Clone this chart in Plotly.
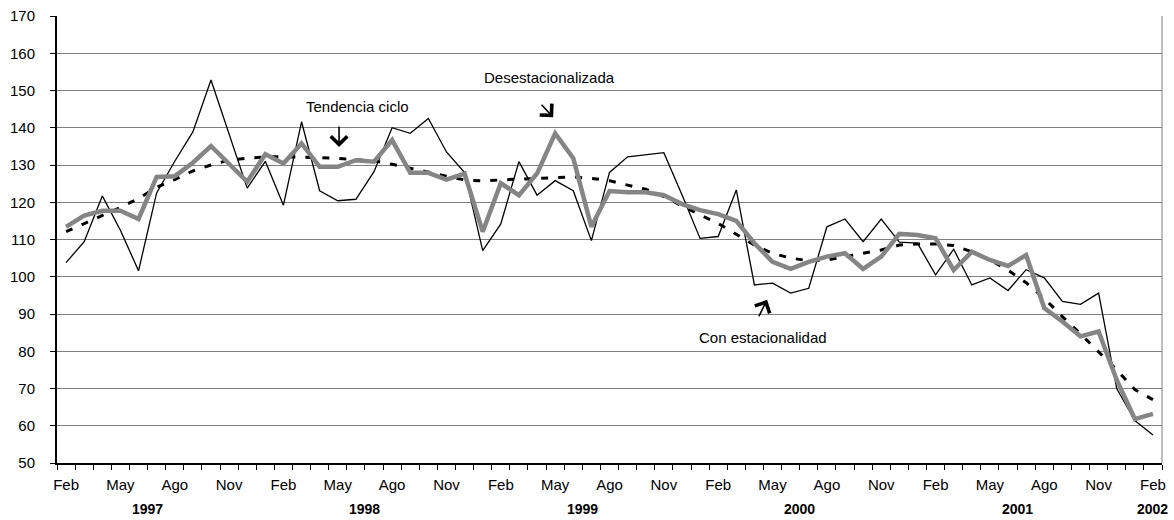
import plotly.graph_objects as go

# Monthly index, Feb 1997 - Feb 2002
month_names = ["Ene", "Feb", "Mar", "Abr", "May", "Jun",
               "Jul", "Ago", "Sep", "Oct", "Nov", "Dic"]
periods = [(1997 + (m // 12), m % 12) for m in range(1, 1 + 61)]  # (year, month0)

con_estacionalidad = [
    103.8, 109.4, 121.7, 112.5, 101.6, 122.5, 131.0, 138.9, 152.8, 138.5,
    123.8, 131.0, 119.2, 141.6, 123.1, 120.4, 120.8, 128.2, 140.0, 138.5,
    142.5, 133.5, 128.0, 107.0, 114.2, 130.9, 121.9, 125.8, 123.1, 109.7,
    128.0, 132.2, 132.7, 133.3, 122.0, 110.3, 110.8, 123.3, 97.8, 98.3,
    95.6, 96.9, 113.4, 115.5, 109.4, 115.5, 109.3, 109.0, 100.5, 107.4,
    97.8, 99.7, 96.3, 101.9, 99.7, 93.4, 92.6, 95.6, 70.0, 61.4, 57.5,
]
desestacionalizada = [
    113.4, 116.4, 117.7, 117.7, 115.5, 126.8, 127.0, 130.6, 135.1, 130.4,
    125.5, 132.9, 130.4, 135.8, 129.5, 129.5, 131.3, 130.9, 136.7, 127.9,
    127.9, 126.1, 127.7, 112.1, 125.1, 121.9, 127.7, 138.5, 131.8, 113.4,
    123.0, 122.7, 122.7, 121.9, 119.5, 117.9, 116.8, 115.0, 109.0, 104.0,
    102.1, 104.0, 105.4, 106.3, 102.1, 105.4, 111.5, 111.2, 110.3, 101.8,
    106.7, 104.5, 102.9, 105.8, 91.6, 88.0, 84.0, 85.3, 72.3, 61.8, 63.2,
]
tendencia_ciclo = [
    112.1, 114.2, 116.4, 118.6, 121.0, 124.0, 126.1, 128.4, 130.0, 131.3,
    131.8, 132.2, 132.2, 132.2, 132.0, 131.8, 131.5, 131.1, 130.2, 129.1,
    127.9, 127.0, 126.0, 125.7, 126.0, 126.2, 126.6, 126.8, 126.8, 126.4,
    125.8, 124.6, 123.5, 121.5, 119.0, 116.6, 114.3, 111.4, 108.5, 106.3,
    105.0, 104.3, 104.5, 105.4, 106.3, 107.2, 108.5, 108.8, 108.8, 108.4,
    106.7, 104.5, 101.8, 98.4, 94.2, 89.3, 84.7, 79.9, 75.0, 69.7, 67.0,
]

x = list(range(len(periods)))
FONT = "Liberation Sans, Arial, sans-serif"

# month labels every quarter (Feb, May, Ago, Nov)
label_idx = [i for i in x if i % 3 == 0]
label_text = [month_names[periods[i][1]] for i in label_idx]

# year labels under the axis: centred at Jun/Jul boundary, last one under final month
years = sorted(set(p[0] for p in periods))
year_pos = []
for yr in years:
    jul = [i for i in x if periods[i] == (yr, 6)]
    year_pos.append(jul[0] - 0.5 if jul else x[-1])

fig = go.Figure()
fig.add_trace(go.Scatter(x=x, y=con_estacionalidad, mode="lines",
                         line=dict(color="black", width=1.3),
                         name="Con estacionalidad"))
fig.add_trace(go.Scatter(x=x, y=tendencia_ciclo, mode="lines",
                         line=dict(color="black", width=3, dash="7px,10px"),
                         name="Tendencia ciclo"))
fig.add_trace(go.Scatter(x=x, y=desestacionalizada, mode="lines",
                         line=dict(color="#858585", width=4.5),
                         name="Desestacionalizada"))

fig.update_layout(
    width=1174, height=520,
    margin=dict(l=57, r=12, t=16, b=57),
    paper_bgcolor="white", plot_bgcolor="white",
    showlegend=False,
    font=dict(family=FONT, size=15, color="black"),
)
fig.update_yaxes(
    range=[50, 170], dtick=10, tick0=50, automargin=False,
    showgrid=True, gridcolor="#808080", gridwidth=1,
    showline=True, linecolor="black", linewidth=2,
    ticks="outside", ticklen=5, tickcolor="black", tickwidth=1,
    ticklabelstandoff=12, zeroline=False,
    tickfont=dict(family=FONT, size=15, color="black"),
)
fig.update_xaxes(
    range=[-0.5, len(x) - 0.5], automargin=False,
    tickmode="array", tickvals=label_idx, ticktext=label_text,
    ticks="", showgrid=False, zeroline=False,
    showline=True, linecolor="black", linewidth=2,
    ticklabelstandoff=7,
    tickfont=dict(family=FONT, size=15, color="black"),
    minor=dict(tickmode="array", tickvals=[i - 0.5 for i in range(len(x) + 1)],
               ticks="outside", ticklen=5, tickcolor="black", tickwidth=1,
               showgrid=False),
)

# right-hand frame edge
fig.add_shape(type="line", xref="paper", yref="paper", x0=1, x1=1, y0=0, y1=1,
              line=dict(color="#808080", width=1))

for yr, pos in zip(years, year_pos):
    fig.add_annotation(x=pos, y=-0.104, xref="x", yref="paper", text=f"<b>{yr}</b>",
                       showarrow=False, yanchor="middle",
                       font=dict(family=FONT, size=14, color="black"))

# series labels with pointer arrows
labels = [
    ("Tendencia ciclo", 16.07, 145.8),
    ("Desestacionalizada", 26.7, 153.6),
    ("Con estacionalidad", 38.5, 83.7),
]
for txt, lx, ly in labels:
    fig.add_annotation(x=lx, y=ly, text=txt, showarrow=False,
                       font=dict(family=FONT, size=15, color="black"))

arrows = [
    (15.07, 134.8, 0, -22),
    (26.89, 142.8, -13, -14),
    (38.7, 93.8, -9, 18),
]
for ax_x, ax_y, dx, dy in arrows:
    fig.add_annotation(x=ax_x, y=ax_y, text="", showarrow=True,
                       ax=dx, ay=dy, arrowhead=4, arrowsize=2,
                       arrowwidth=1.6, arrowcolor="black")

fig.write_html("out.html")
